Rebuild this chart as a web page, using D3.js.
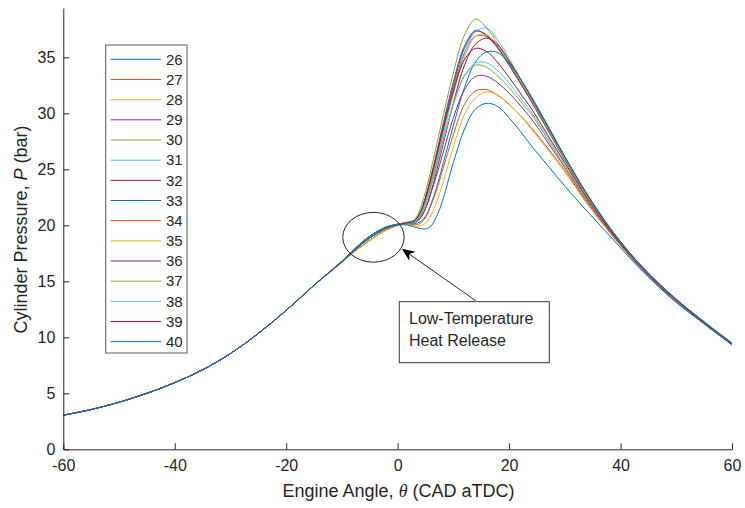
<!DOCTYPE html>
<html>
<head>
<meta charset="utf-8">
<script src="https://cdn.jsdelivr.net/npm/d3@7"></script>
<style>
	body { margin: 0; background: #fff; }
	svg text { font-family: "Liberation Sans", Arial, sans-serif; fill: #262626; }
</style>
</head>
<body>
<div id="svg"></div>
<script>
const width = 745,
			height = 508;

// compression stroke, all runs sit on top of each other here
const compAngles = [-60, -55, -50, -45, -40, -35, -30, -25, -20, -15];
const compPressure = [3.05, 3.55, 4.2, 5.0, 5.95, 7.1, 8.55, 10.35, 12.4, 14.65];

// from -10 CAD on the runs split up
const angles = [-10, -8, -6, -4, -2, 0, 2, 3, 4, 5, 6, 7, 8, 10, 12, 14, 16, 18, 20, 22, 24, 27, 30, 34, 38, 42, 46, 50, 55, 60];

const runs = ["26", "27", "28", "29", "30", "31", "32", "33", "34", "35", "36", "37", "38", "39", "40"];

const p26 = [16.8, 17.75, 18.65, 19.35, 19.85, 20.1, 20.3, 20.4, 21.0, 22.3, 24.1, 26.2, 28.4, 32.5, 35.8, 37.3, 37.0, 35.9, 34.4, 32.8, 31.15, 28.55, 25.95, 22.65, 19.75, 17.25, 15.15, 13.35, 11.35, 9.45];
const p27 = [16.7, 17.55, 18.3, 19.0, 19.6, 20.0, 20.25, 20.35, 20.9, 22.2, 24.0, 26.0, 28.1, 32.2, 35.4, 36.9, 36.8, 35.8, 34.3, 32.7, 31.05, 28.45, 25.85, 22.55, 19.7, 17.2, 15.1, 13.3, 11.3, 9.4];
const p28 = [16.7, 17.55, 18.3, 19.0, 19.6, 20.0, 20.2, 20.3, 20.7, 21.8, 23.5, 25.5, 27.6, 31.7, 35.0, 36.9, 37.0, 36.0, 34.5, 32.9, 31.25, 28.6, 26.0, 22.65, 19.75, 17.25, 15.15, 13.3, 11.3, 9.4];
const p29 = [16.8, 17.75, 18.65, 19.35, 19.85, 20.1, 20.25, 20.4, 21.1, 22.5, 24.4, 26.5, 28.7, 32.8, 36.0, 37.4, 36.9, 35.8, 34.3, 32.7, 31.05, 28.45, 25.85, 22.55, 19.7, 17.2, 15.1, 13.3, 11.3, 9.4];
const p30 = [16.8, 17.75, 18.65, 19.35, 19.85, 20.1, 20.3, 20.5, 21.4, 23.0, 25.0, 27.2, 29.4, 33.6, 37.0, 38.4, 37.6, 36.2, 34.6, 32.9, 31.2, 28.55, 25.9, 22.55, 19.65, 17.15, 15.05, 13.25, 11.25, 9.35];
const p31 = [16.75, 17.65, 18.5, 19.2, 19.75, 20.05, 20.25, 20.35, 20.8, 22.0, 23.7, 25.7, 27.8, 31.9, 35.3, 37.3, 37.6, 36.5, 34.9, 33.1, 31.35, 28.7, 26.05, 22.7, 19.8, 17.3, 15.15, 13.35, 11.3, 9.4];
const p32 = [16.75, 17.65, 18.5, 19.2, 19.75, 20.05, 20.2, 20.3, 20.6, 21.5, 23.0, 24.9, 26.9, 30.9, 34.3, 36.2, 36.7, 36.1, 34.7, 33.1, 31.4, 28.75, 26.1, 22.75, 19.8, 17.3, 15.2, 13.4, 11.35, 9.45];
const p33 = [16.8, 17.75, 18.65, 19.35, 19.85, 20.1, 20.15, 20.15, 20.3, 20.8, 21.9, 23.4, 25.2, 28.9, 32.3, 34.6, 35.5, 35.4, 34.5, 33.1, 31.5, 28.85, 26.15, 22.8, 19.85, 17.35, 15.25, 13.4, 11.4, 9.5];
const p34 = [16.7, 17.55, 18.3, 19.0, 19.6, 20.0, 20.1, 20.05, 20.15, 20.7, 21.8, 23.2, 24.8, 28.1, 30.8, 32.0, 32.1, 31.6, 30.8, 29.8, 28.7, 26.85, 24.9, 22.0, 19.4, 17.05, 14.95, 13.2, 11.2, 9.35];
const p35 = [16.7, 17.55, 18.3, 19.0, 19.6, 20.0, 20.05, 19.95, 19.95, 20.2, 20.9, 22.1, 23.6, 27.0, 29.9, 31.4, 31.9, 31.6, 30.8, 29.8, 28.6, 26.7, 24.75, 21.9, 19.35, 17.0, 14.95, 13.2, 11.2, 9.35];
const p36 = [16.75, 17.65, 18.5, 19.2, 19.75, 20.05, 20.2, 20.25, 20.6, 21.5, 22.9, 24.5, 26.2, 29.6, 32.1, 33.3, 33.3, 32.7, 31.8, 30.7, 29.5, 27.35, 25.15, 22.15, 19.5, 17.1, 15.0, 13.2, 11.25, 9.35];
const p37 = [16.75, 17.65, 18.5, 19.2, 19.75, 20.05, 20.2, 20.3, 20.9, 22.1, 23.7, 25.5, 27.3, 30.8, 33.3, 34.3, 34.1, 33.3, 32.3, 31.1, 29.9, 27.6, 25.3, 22.25, 19.55, 17.1, 15.0, 13.2, 11.25, 9.35];
const p38 = [16.75, 17.65, 18.5, 19.2, 19.75, 20.05, 20.2, 20.3, 20.8, 21.9, 23.5, 25.3, 27.2, 30.8, 33.4, 34.5, 34.5, 33.8, 32.7, 31.4, 30.1, 27.8, 25.5, 22.4, 19.6, 17.15, 15.05, 13.3, 11.3, 9.4];
const p39 = [16.75, 17.65, 18.5, 19.2, 19.75, 20.05, 20.25, 20.4, 21.1, 22.5, 24.3, 26.3, 28.3, 32.0, 34.8, 35.8, 35.5, 34.5, 33.2, 31.8, 30.4, 28.0, 25.6, 22.4, 19.6, 17.15, 15.05, 13.3, 11.3, 9.4];
const p40 = [16.75, 17.65, 18.5, 19.2, 19.75, 20.05, 20.0, 19.85, 19.72, 19.68, 19.95, 20.8, 22.1, 25.6, 28.6, 30.4, 30.9, 30.6, 29.6, 28.4, 27.1, 25.3, 23.5, 21.25, 19.1, 16.9, 14.9, 13.1, 11.2, 9.3];

const pressures = [p26, p27, p28, p29, p30, p31, p32, p33, p34, p35, p36, p37, p38, p39, p40];

const xTicks = [-60, -40, -20, 0, 20, 40, 60];
const yTicks = [0, 5, 10, 15, 20, 25, 30, 35];

// matlab default colour order
const colors = ["#0072BD", "#D95319", "#EDB120", "#7E2F8E", "#77AC30", "#4DBEEE", "#A2142F"];

const svg = d3.select("#svg")
	.append("svg")
		.attr("width", width)
		.attr("height", height);

const x = d3.scaleLinear()
		.domain([-60, 60])
		.range([63.3, 732]);

const y = d3.scaleLinear()
		.domain([0, 39.4])
		.range([449.3, 8]);

const line = d3.line()
		.x(d => x(d[0]))
		.y(d => y(d[1]))
		.curve(d3.curveCatmullRom.alpha(0.5));

const data = pressures.map((p, k) => ({
	run: runs[k],
	color: colors[k % colors.length],
	values: compAngles.map((a, i) => [a, compPressure[i]])
		.concat(angles.map((a, i) => [a, p[i]]))
}));

// curves
svg.append("g")
	.selectAll("path")
	.data(data)
	.enter()
	.append("path")
		.attr("fill", "none")
		.attr("stroke", d => d.color)
		.attr("stroke-width", 1)
		.attr("d", d => line(d.values));

// axes, ticks point inwards like matlab
const xAxis = svg.append("g")
		.attr("transform", `translate(0, ${y(0)})`)
		.call(d3.axisBottom(x)
				.tickValues(xTicks)
				.tickFormat(d => String(d))
				.tickSizeInner(-6)
				.tickSizeOuter(0)
				.tickPadding(10));

const yAxis = svg.append("g")
		.attr("transform", `translate(${x(-60)}, 0)`)
		.call(d3.axisLeft(y)
				.tickValues(yTicks)
				.tickFormat(d => String(d))
				.tickSizeInner(-6)
				.tickSizeOuter(0)
				.tickPadding(8));

[xAxis, yAxis].forEach(a => {
	a.select(".domain").attr("stroke", "#262626");
	a.selectAll(".tick line").attr("stroke", "#262626");
	a.selectAll(".tick text")
			.style("font-size", "16px")
			.attr("fill", "#262626");
});

// axis labels
const xLabel = svg.append("text")
		.attr("x", 398.5)
		.attr("y", 497)
		.attr("text-anchor", "middle")
		.style("font-size", "18px");
xLabel.append("tspan").text("Engine Angle, ");
xLabel.append("tspan").style("font-style", "italic").style("font-family", "'Liberation Serif', serif").text("θ");
xLabel.append("tspan").text(" (CAD aTDC)");

const yLabel = svg.append("text")
		.attr("transform", "translate(27, 229.5) rotate(-90)")
		.attr("text-anchor", "middle")
		.style("font-size", "18px");
yLabel.append("tspan").text("Cylinder Pressure, ");
yLabel.append("tspan").style("font-style", "italic").text("P");
yLabel.append("tspan").text(" (bar)");

// legend
const legend = svg.append("g");

legend.append("rect")
		.attr("x", 105.7)
		.attr("y", 45)
		.attr("width", 81.3)
		.attr("height", 308)
		.attr("fill", "#fff")
		.attr("stroke", "#5a5a5a")
		.attr("stroke-width", 1);

const ly = d3.scalePoint()
		.domain(runs)
		.range([59.3, 341.7]);

const item = legend.selectAll(".item")
	.data(data)
	.enter()
	.append("g")
		.attr("transform", d => `translate(0, ${ly(d.run)})`);

item.append("line")
		.attr("x1", 110.7)
		.attr("x2", 161)
		.attr("stroke", d => d.color)
		.attr("stroke-width", 1);

item.append("text")
		.attr("x", 166)
		.attr("dy", "0.35em")
		.style("font-size", "15px")
		.text(d => d.run);

// annotation: ellipse round the LTHR bump, arrow and text box
svg.append("ellipse")
		.attr("cx", x(-4.34))
		.attr("cy", y(18.93))
		.attr("rx", 30.7)
		.attr("ry", 24.9)
		.attr("fill", "none")
		.attr("stroke", "#262626")
		.attr("stroke-width", 1);

const tip = [x(0.75), y(17.9)],
			tail = [x(14.0), y(13.27)];
const len = Math.hypot(tip[0] - tail[0], tip[1] - tail[1]);
const ux = (tip[0] - tail[0]) / len,
			uy = (tip[1] - tail[1]) / len;

svg.append("line")
		.attr("x1", tail[0])
		.attr("y1", tail[1])
		.attr("x2", tip[0] - 8 * ux)
		.attr("y2", tip[1] - 8 * uy)
		.attr("stroke", "#262626")
		.attr("stroke-width", 1);

svg.append("path")
		.attr("fill", "#000")
		.attr("d", `M${tip[0]},${tip[1]}` +
				`L${tip[0] - 13 * ux - 5.5 * uy},${tip[1] - 13 * uy + 5.5 * ux}` +
				`L${tip[0] - 9 * ux},${tip[1] - 9 * uy}` +
				`L${tip[0] - 13 * ux + 5.5 * uy},${tip[1] - 13 * uy - 5.5 * ux}Z`);

svg.append("rect")
		.attr("x", 399.3)
		.attr("y", 301.7)
		.attr("width", 150)
		.attr("height", 61)
		.attr("fill", "#fff")
		.attr("stroke", "#3a3a3a")
		.attr("stroke-width", 1);

svg.append("text")
		.attr("x", 409)
		.attr("y", 318.3)
		.attr("dy", "0.35em")
		.style("font-size", "16px")
		.text("Low-Temperature");

svg.append("text")
		.attr("x", 409)
		.attr("y", 340)
		.attr("dy", "0.35em")
		.style("font-size", "16px")
		.text("Heat Release");
</script>
</body>
</html>
